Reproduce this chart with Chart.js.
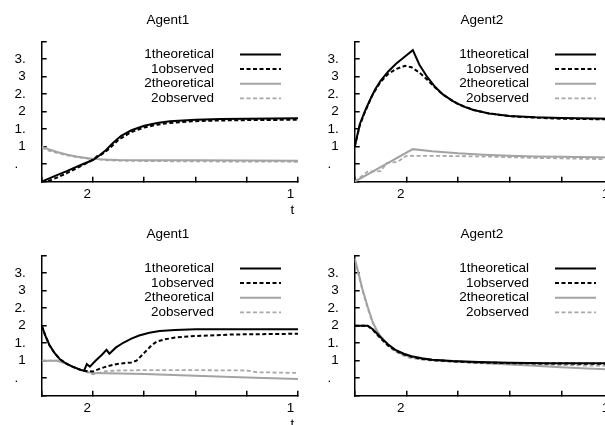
<!DOCTYPE html>
<html>
<head>
<meta charset="utf-8">
<script src="https://cdn.jsdelivr.net/npm/chart.js@4.4.0/dist/chart.umd.min.js"></script>
<style>
  html, body { margin: 0; padding: 0; background: #fff; width: 605px; height: 425px; overflow: hidden; }
  #page { position: relative; width: 800px; height: 425px; }
  #page canvas { position: absolute; }
</style>
</head>
<body>
<div id="page">
  <canvas id="topLeft" width="322" height="218" style="left:0px;top:0px;width:322px;height:218px"></canvas>
  <canvas id="topRight" width="324" height="218" style="left:312.6px;top:0px;width:324px;height:218px"></canvas>
  <canvas id="bottomLeft" width="322" height="218" style="left:0px;top:214px;width:322px;height:218px"></canvas>
  <canvas id="bottomRight" width="324" height="218" style="left:312.6px;top:214px;width:324px;height:218px"></canvas>
</div>
<script>
// series names and panel titles
const seriesNames = ['1theoretical', '1observed', '2theoretical', '2observed'];
const panelTitles = ['Agent1', 'Agent2', 'Agent1', 'Agent2'];

// tick labels (as printed in the figure)
const xTickVals = [20, 100];
const xTickText = ['2   ', '1    '];
const yTickVals = [0.5, 1, 1.5, 2, 2.5, 3, 3.5];
const yTickText = ['.  ', '1', '1.', '2', '2.', '3', '3.'];

// top left: Agent1
const a1tX = [0, 5, 10, 15, 20, 22, 25, 28, 31, 35, 40, 45, 50, 60, 70, 80, 100];
const a1tY = [0, 0.16, 0.31, 0.47, 0.62, 0.72, 0.9, 1.12, 1.31, 1.47, 1.6, 1.68, 1.73, 1.77, 1.79, 1.8, 1.81];
const a1oX = [0, 3, 6, 10, 14, 18, 20, 21.5, 23, 26, 30, 35, 40, 45, 50, 60, 70, 80, 100];
const a1oY = [0, 0.03, 0.12, 0.25, 0.4, 0.55, 0.63, 0.72, 0.76, 0.92, 1.2, 1.42, 1.55, 1.63, 1.68, 1.73, 1.75, 1.76, 1.77];
const a2tX = [0, 3, 6, 10, 14, 18, 22, 26, 30, 40, 60, 100];
const a2tY = [1.0, 0.92, 0.85, 0.77, 0.71, 0.67, 0.645, 0.63, 0.62, 0.615, 0.61, 0.6];
const a2oX = [0, 3, 6, 10, 14, 18, 22, 26, 30, 40, 60, 100];
const a2oY = [0.97, 0.88, 0.82, 0.75, 0.7, 0.66, 0.64, 0.61, 0.6, 0.59, 0.58, 0.57];

// top right: Agent2
const b1tX = [0, 2, 4, 6, 8, 10, 13, 16, 19, 22.5, 25, 28, 31, 34, 38, 42, 46, 52, 60, 70, 80, 100];
const b1tY = [1.0, 1.65, 2.02, 2.35, 2.65, 2.88, 3.15, 3.37, 3.55, 3.76, 3.35, 3.0, 2.72, 2.5, 2.3, 2.15, 2.05, 1.95, 1.88, 1.84, 1.82, 1.8];
const b1oX = [0, 2, 4, 7, 10, 13, 16, 19.5, 22, 25, 28, 31, 34, 37, 40, 46, 52, 60, 70, 80, 100];
const b1oY = [1.0, 1.62, 2.0, 2.5, 2.85, 3.08, 3.22, 3.31, 3.27, 3.12, 2.92, 2.7, 2.5, 2.35, 2.22, 2.05, 1.95, 1.87, 1.83, 1.8, 1.78];
const b2tX = [0, 22.5, 30, 40, 50, 60, 70, 80, 100];
const b2tY = [0, 0.93, 0.87, 0.81, 0.77, 0.74, 0.72, 0.71, 0.69];
const b2oX = [0, 5, 10, 12.5, 16.5, 20, 30, 50, 70, 100];
const b2oY = [0, 0.29, 0.3, 0.54, 0.56, 0.74, 0.74, 0.72, 0.68, 0.64];

// bottom left: Agent1
const c1tX = [0, 1.5, 3, 5, 7, 9.5, 12, 14.5, 16.5, 17.6, 18.8, 21, 23.5, 25.3, 26.4, 29, 32, 35, 38, 42, 46, 52, 60, 70, 100];
const c1tY = [2.0, 1.7, 1.45, 1.22, 1.05, 0.92, 0.83, 0.76, 0.71, 0.9, 0.83, 1.0, 1.17, 1.31, 1.2, 1.38, 1.52, 1.63, 1.72, 1.8, 1.85, 1.88, 1.9, 1.9, 1.9];
const c1oX = [0, 1.5, 3, 5, 7, 9.5, 12, 15, 18, 20, 23, 26, 29, 32, 35, 37, 39, 41, 43, 45, 48, 52, 58, 65, 75, 100];
const c1oY = [2.0, 1.7, 1.45, 1.22, 1.05, 0.92, 0.83, 0.74, 0.7, 0.69, 0.78, 0.85, 0.9, 0.93, 0.95, 1.0, 1.15, 1.3, 1.45, 1.55, 1.61, 1.66, 1.7, 1.72, 1.75, 1.77];
const c2tX = [0, 6, 9, 12, 15, 18, 20, 25, 40, 60, 80, 100];
const c2tY = [1.0, 1.0, 0.93, 0.83, 0.74, 0.68, 0.65, 0.64, 0.62, 0.57, 0.52, 0.48];
const c2oX = [0, 6, 9, 12, 15, 18, 20, 25, 30, 40, 60, 80, 84, 100];
const c2oY = [1.0, 1.0, 0.93, 0.83, 0.74, 0.66, 0.61, 0.7, 0.72, 0.73, 0.73, 0.72, 0.67, 0.65];

// bottom right: Agent2
const d1tX = [0, 5, 7, 9, 11, 13, 16, 19, 22, 26, 30, 38, 48, 60, 75, 100];
const d1tY = [2.0, 2.0, 1.9, 1.75, 1.6, 1.46, 1.3, 1.2, 1.13, 1.07, 1.03, 0.99, 0.96, 0.94, 0.93, 0.93];
const d1oX = [0, 5, 7, 9, 11, 13, 16, 19, 22, 26, 30, 38, 48, 60, 75, 100];
const d1oY = [2.0, 2.0, 1.88, 1.72, 1.57, 1.43, 1.28, 1.18, 1.11, 1.05, 1.02, 0.98, 0.95, 0.93, 0.92, 0.91];
const d2tX = [0, 1.5, 3, 5, 7, 8.5, 10, 12.5, 15, 18, 21, 25, 30, 38, 48, 58, 68, 78, 90, 100];
const d2tY = [3.93, 3.5, 3.05, 2.55, 2.1, 1.88, 1.7, 1.48, 1.32, 1.2, 1.12, 1.06, 1.02, 0.98, 0.94, 0.9, 0.86, 0.82, 0.78, 0.75];
const d2oX = [0, 1.5, 3, 5, 7, 8.5, 10, 12.5, 15, 18, 21, 25, 30, 38, 48, 58, 68, 78, 90, 100];
const d2oY = [3.9, 3.45, 3.0, 2.5, 2.07, 1.86, 1.68, 1.45, 1.3, 1.17, 1.09, 1.04, 1.0, 0.97, 0.93, 0.91, 0.89, 0.88, 0.86, 0.85];

const FONT = "'Liberation Sans', Arial, Helvetica, sans-serif";
Chart.defaults.font.family = FONT;
Chart.defaults.font.size = 13.5;
Chart.defaults.color = '#000';

const styles = [
  { borderColor: '#000', borderWidth: 2, borderDash: [] },
  { borderColor: '#000', borderWidth: 2, borderDash: [4, 2.5] },
  { borderColor: '#a3a3a3', borderWidth: 2, borderDash: [] },
  { borderColor: '#a8a8a8', borderWidth: 1.8, borderDash: [4, 2.5] }
];

function pts(xs, ys) {
  return xs.map((x, i) => ({ x: x, y: ys[i] }));
}

// title centred over the plot area
const panelTitle = {
  id: 'panelTitle',
  afterDraw(chart, args, opts) {
    const { ctx, chartArea } = chart;
    ctx.save();
    ctx.font = '13.5px ' + FONT;
    ctx.fillStyle = '#000';
    ctx.textAlign = 'center';
    ctx.textBaseline = 'middle';
    ctx.fillText(opts.text, (chartArea.left + chartArea.right) / 2 - 2, 20);
    ctx.restore();
  }
};

// gnuplot-like key: label right aligned, sample line to the right
const sideLegend = {
  id: 'sideLegend',
  beforeDatasetsDraw(chart) {
    const { ctx, chartArea } = chart;
    ctx.save();
    ctx.font = '13.5px ' + FONT;
    ctx.textAlign = 'right';
    ctx.textBaseline = 'middle';
    chart.data.datasets.forEach((ds, i) => {
      const y = chartArea.top + 12.8 + i * 14.6;
      ctx.fillStyle = '#000';
      ctx.fillText(ds.label, chartArea.right - 84, y);
      ctx.beginPath();
      ctx.setLineDash(ds.borderDash);
      ctx.strokeStyle = ds.borderColor;
      ctx.lineWidth = ds.borderWidth;
      ctx.moveTo(chartArea.right - 58, y);
      ctx.lineTo(chartArea.right - 17, y);
      ctx.stroke();
    });
    ctx.restore();
  }
};

function makePanel(id, title, series) {
  const datasets = series.map((s, i) => Object.assign({
    label: seriesNames[i],
    data: pts(s[0], s[1]),
    pointRadius: 0,
    tension: 0,
    fill: false
  }, styles[i]));

  new Chart(document.getElementById(id), {
    type: 'line',
    data: { datasets: datasets },
    options: {
      responsive: false,
      animation: false,
      layout: { padding: { top: 41.7, right: 24, left: 0, bottom: 0 } },
      plugins: {
        legend: { display: false },
        tooltip: { enabled: false },
        panelTitle: { text: title }
      },
      scales: {
        x: {
          type: 'linear',
          min: 0,
          max: 100,
          afterFit(scale) { scale.height = 36.3; },
          border: { color: '#000', width: 1.5 },
          grid: { drawOnChartArea: false, tickLength: -5, color: '#000', lineWidth: 1.5 },
          ticks: {
            stepSize: 20,
            autoSkip: false,
            maxRotation: 0,
            padding: 9.5,
            color: '#000',
            callback: v => {
              const k = xTickVals.indexOf(v);
              return k < 0 ? '' : xTickText[k];
            }
          },
          title: { display: true, text: 't ', align: 'end', padding: 0, color: '#000' }
        },
        y: {
          min: 0,
          max: 4,
          afterFit(scale) { scale.width = 41.7; },
          border: { color: '#000', width: 1.5 },
          grid: { drawOnChartArea: false, tickLength: -5, color: '#000', lineWidth: 1.5 },
          ticks: {
            stepSize: 0.5,
            autoSkip: false,
            padding: 21,
            color: '#000',
            callback: v => {
              const k = yTickVals.indexOf(v);
              return k < 0 ? '' : yTickText[k];
            }
          }
        }
      }
    },
    plugins: [panelTitle, sideLegend]
  });
}

makePanel('topLeft', panelTitles[0], [[a1tX, a1tY], [a1oX, a1oY], [a2tX, a2tY], [a2oX, a2oY]]);
makePanel('topRight', panelTitles[1], [[b1tX, b1tY], [b1oX, b1oY], [b2tX, b2tY], [b2oX, b2oY]]);
makePanel('bottomLeft', panelTitles[2], [[c1tX, c1tY], [c1oX, c1oY], [c2tX, c2tY], [c2oX, c2oY]]);
makePanel('bottomRight', panelTitles[3], [[d1tX, d1tY], [d1oX, d1oY], [d2tX, d2tY], [d2oX, d2oY]]);
</script>
</body>
</html>
